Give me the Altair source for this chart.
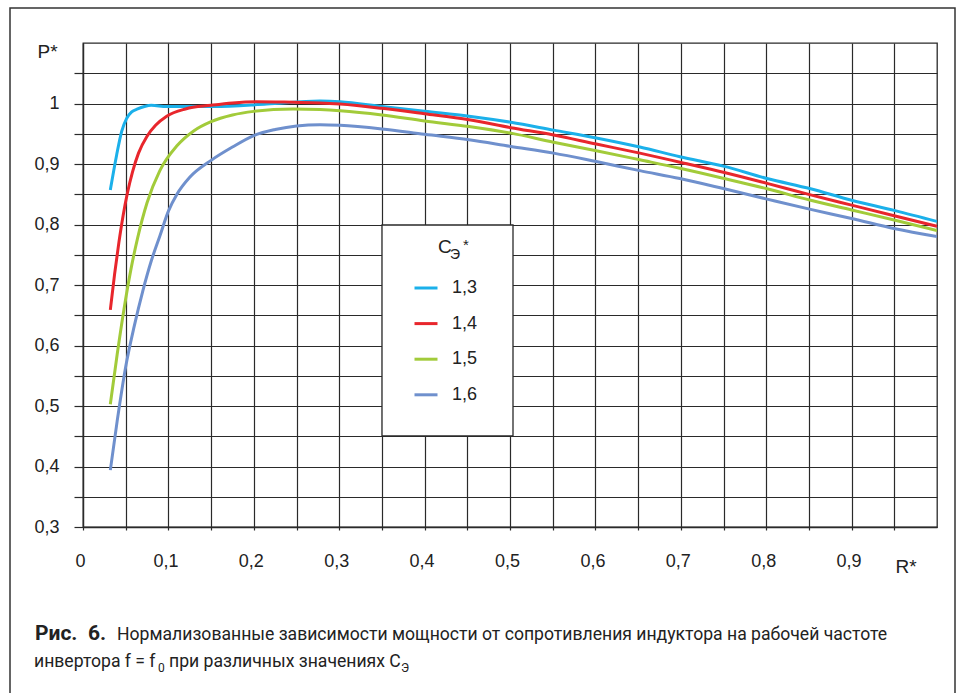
import altair as alt
import pandas as pd

# ---- data ----
series = ["1,3", "1,4", "1,5", "1,6"]
colors = ["#1bb0ea", "#e8262c", "#a2cb3a", "#6f90cd"]

x_13 = [0.032, 0.0394, 0.0453, 0.051, 0.057, 0.064, 0.072, 0.080, 0.098, 0.153, 0.215, 0.2775,
        0.301, 0.350, 0.400, 0.452, 0.501, 0.551, 0.601, 0.652, 0.699, 0.751, 0.801, 0.852, 0.900, 0.951, 1.0]
y_13 = [0.857, 0.915, 0.954, 0.975, 0.986, 0.991, 0.995, 0.997, 0.995, 0.995, 0.999, 1.004,
        1.003, 0.995, 0.987, 0.979, 0.969, 0.956, 0.943, 0.928, 0.912, 0.896, 0.876, 0.859, 0.840, 0.823, 0.805]

x_14 = [0.032, 0.037, 0.042, 0.047, 0.052, 0.058, 0.065, 0.075, 0.085, 0.098, 0.120, 0.150, 0.175, 0.203, 0.246, 0.2775,
        0.301, 0.350, 0.400, 0.452, 0.501, 0.551, 0.601, 0.652, 0.699, 0.751, 0.801, 0.852, 0.900, 0.951, 1.0]
y_14 = [0.659, 0.718, 0.770, 0.815, 0.852, 0.887, 0.918, 0.946, 0.964, 0.979, 0.991, 0.997, 1.001, 1.003, 1.002, 1.001,
        0.999, 0.992, 0.983, 0.973, 0.960, 0.948, 0.933, 0.918, 0.903, 0.886, 0.868, 0.849, 0.832, 0.814, 0.797]

x_15 = [0.032, 0.040, 0.048, 0.056, 0.064, 0.075, 0.090, 0.110, 0.130, 0.150, 0.175, 0.200, 0.246, 0.2775,
        0.301, 0.350, 0.400, 0.452, 0.501, 0.551, 0.601, 0.652, 0.699, 0.751, 0.801, 0.852, 0.900, 0.951, 1.0]
y_15 = [0.503, 0.585, 0.660, 0.725, 0.778, 0.836, 0.889, 0.930, 0.955, 0.970, 0.981, 0.987, 0.991, 0.990,
        0.988, 0.981, 0.971, 0.962, 0.951, 0.936, 0.922, 0.907, 0.893, 0.876, 0.859, 0.840, 0.824, 0.807, 0.790]

x_16 = [0.032, 0.040, 0.050, 0.060, 0.070, 0.080, 0.090, 0.100, 0.110, 0.125, 0.150, 0.175, 0.200, 0.225, 0.250, 0.2775,
        0.301, 0.350, 0.400, 0.452, 0.501, 0.551, 0.601, 0.652, 0.699, 0.751, 0.801, 0.852, 0.900, 0.951, 1.0]
y_16 = [0.394, 0.475, 0.565, 0.632, 0.690, 0.740, 0.781, 0.822, 0.850, 0.878, 0.906, 0.928, 0.947, 0.957, 0.963, 0.965,
        0.964, 0.958, 0.949, 0.940, 0.929, 0.918, 0.904, 0.889, 0.876, 0.859, 0.842, 0.825, 0.810, 0.793, 0.780]

x_ticks = [round(i * 0.05, 2) for i in range(20)]   # 0 .. 0.95
y_ticks = [round(0.3 + i * 0.05, 2) for i in range(16)]  # 0.3 .. 1.05

caption_bold_a = "Рис."
caption_bold_b = "6."
caption_line1 = "Нормализованные зависимости мощности от сопротивления индуктора на рабочей частоте"
caption_line2a = "инвертора f = f"
caption_sub0 = "0"
caption_line2b = "при различных значениях С"
caption_subE = "Э"

# ---- table ----
frames = []
for name, xs, ys in [(series[0], x_13, y_13), (series[1], x_14, y_14),
                     (series[2], x_15, y_15), (series[3], x_16, y_16)]:
    frames.append(pd.DataFrame({"R": xs, "P": ys, "C": name}))
df = pd.concat(frames, ignore_index=True)
one = pd.DataFrame({"a": [0]})

GRID = "#2a2a2a"
TXT = "#222222"
label_expr = ("abs(datum.value*10 - round(datum.value*10)) < 0.001 ? "
              "replace(format(datum.value, '.1~f'), '.', ',') : ''")

lines = alt.Chart(df).mark_line(strokeWidth=3, interpolate="monotone", clip=True).encode(
    x=alt.X("R:Q", scale=alt.Scale(domain=[0, 1], nice=False, zero=False),
            axis=alt.Axis(values=x_ticks, labelExpr=label_expr, title="R*",
                          tickSize=3, labelPadding=22, labelFlush=False, labelOffset=-3,
                          titleX=812, titleY=45, titleAlign="left", titleBaseline="alphabetic",
                          titleFontWeight="normal", titleFontSize=19)),
    y=alt.Y("P:Q", scale=alt.Scale(domain=[0.3, 1.1], nice=False, zero=False),
            axis=alt.Axis(values=y_ticks, labelExpr=label_expr, title="P*",
                          tickSize=9, labelPadding=15, labelFlush=False,
                          titleAngle=0, titleX=-46, titleY=14, titleAlign="left",
                          titleBaseline="alphabetic", titleFontWeight="normal", titleFontSize=19)),
    color=alt.Color("C:N", scale=alt.Scale(domain=series, range=colors),
                    legend=alt.Legend(title=None, orient="none", legendX=330, legendY=232,
                                      direction="vertical", symbolType="stroke", symbolSize=529,
                                      symbolStrokeWidth=3, labelFontSize=18, labelOffset=13,
                                      labelFont="Liberation Sans", labelColor=TXT,
                                      rowPadding=13.6, padding=0)),
    detail="C:N",
)

frame = alt.Chart(one).mark_rect(fill="white", fillOpacity=0, stroke="#333333", strokeWidth=1.5).encode(
    x=alt.value(-73), x2=alt.value(872), y=alt.value(-35), y2=alt.value(720))

legend_box = alt.Chart(one).mark_rect(fill="white", stroke=GRID, strokeWidth=1.3).encode(
    x=alt.value(299), x2=alt.value(430), y=alt.value(182), y2=alt.value(393))


def txt(text, x, y, size, font="Liberation Sans", weight="normal", align="left"):
    return alt.Chart(one).mark_text(text=text, font=font, fontSize=size, fontWeight=weight,
                                    align=align, baseline="alphabetic", color=TXT).encode(
        x=alt.value(x), y=alt.value(y))


leg_title = txt("C", 355, 210, 19) + txt("Э", 367, 216, 14) + txt("*", 380, 207, 15)

cap_font = "Roboto"
CS = 17.6
caption = (txt(caption_bold_a, -48, 597, 21, cap_font, "bold")
           + txt(caption_bold_b, 5, 597, 21, cap_font, "bold")
           + txt(caption_line1, 34, 597, CS, cap_font)
           + txt(caption_line2a, -49, 624, CS, cap_font)
           + txt(caption_sub0, 75, 629, 12, cap_font)
           + txt(caption_line2b, 86, 624, CS, cap_font)
           + txt(caption_subE, 318, 629, 12, cap_font))

chart = alt.layer(frame, legend_box, lines, leg_title, caption).properties(
    width=854, height=484,
    autosize=alt.AutoSizeParams(type="none"),
    padding={"left": 83, "top": 43, "right": 20, "bottom": 166},
).configure_view(stroke=GRID, strokeWidth=1.3).configure_axis(
    grid=True, gridColor=GRID, gridWidth=1.2, gridOpacity=1,
    domainColor=GRID, domainWidth=1.3, tickColor=GRID, tickWidth=1.2,
    labelFont="Liberation Sans", labelFontSize=18, labelColor=TXT,
    titleFont="Liberation Sans", titleColor=TXT,
)

chart.save("out.html", embed_options={"renderer": "svg", "actions": False})
